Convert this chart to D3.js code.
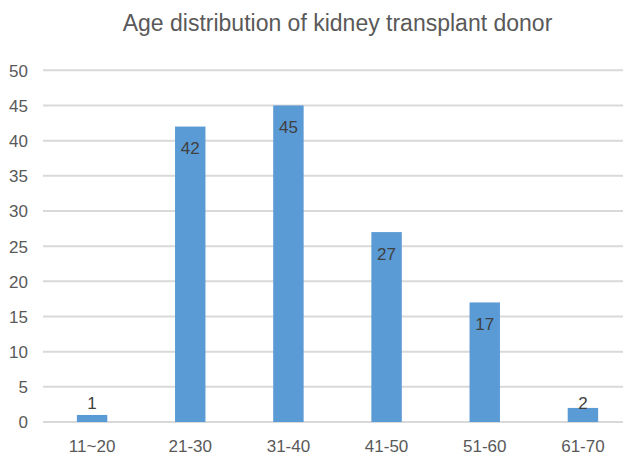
<!DOCTYPE html>
<html><head><meta charset="utf-8">
<script src="https://cdn.jsdelivr.net/npm/d3@7"></script>
<style>body{margin:0;background:#fff}svg{display:block}text{font-family:"Liberation Sans",Arial,sans-serif}</style>
</head><body><svg id="c" width="623" height="455"></svg>
<script>
const title = "Age distribution of kidney transplant donor";
const categories = ["11~20","21-30","31-40","41-50","51-60","61-70"];
const values = [1,42,45,27,17,2];
const yTicks = [0,5,10,15,20,25,30,35,40,45,50];

(function(){
const svg = d3.select("#c");
const mLeft = 43, mRight = 632, mTop = 70.3, mBottom = 422;
const x = d3.scaleBand().domain(categories).range([mLeft, mRight]).paddingInner(0.69).paddingOuter(0.345);
const y = d3.scaleLinear().domain([0,50]).range([mBottom, mTop]);

svg.append("text").attr("x",(mLeft+mRight)/2).attr("y",31).attr("text-anchor","middle")
  .attr("font-size",23).attr("fill","#595959").text(title);

svg.append("g").selectAll("line").data(yTicks).join("line")
  .attr("x1",mLeft).attr("x2",mRight).attr("y1",d=>y(d)).attr("y2",d=>y(d))
  .attr("stroke","#d9d9d9").attr("stroke-width",2);

const yAxis = d3.axisLeft(y).tickValues(yTicks).tickSize(0).tickPadding(0);
const gy = svg.append("g").attr("transform",`translate(28,0)`).call(yAxis);
gy.select(".domain").remove();
gy.selectAll("text").attr("font-size",17).attr("fill","#595959").attr("dy","0.35em").style("font-family","Liberation Sans, Arial, sans-serif");

svg.append("g").selectAll("rect").data(values).join("rect")
  .attr("x",(d,i)=>x(categories[i])).attr("width",x.bandwidth())
  .attr("y",d=>y(d)).attr("height",d=>mBottom-y(d)).attr("fill","#5b9bd5");

const xAxis = d3.axisBottom(x).tickSize(0).tickPadding(0);
const gx = svg.append("g").attr("transform",`translate(0,${mBottom})`).call(xAxis);
gx.select(".domain").remove();
gx.selectAll("text").attr("font-size",17).attr("fill","#595959").attr("y",30).attr("dy",0).style("font-family","Liberation Sans, Arial, sans-serif");

svg.append("g").selectAll("text").data(values).join("text")
  .attr("x",(d,i)=>x(categories[i])+x.bandwidth()/2)
  .attr("y",d=>Math.min(y(d)+27.5, 409))
  .attr("text-anchor","middle").attr("font-size",17).attr("fill","#404040").text(d=>d);
})();
</script></body></html>
